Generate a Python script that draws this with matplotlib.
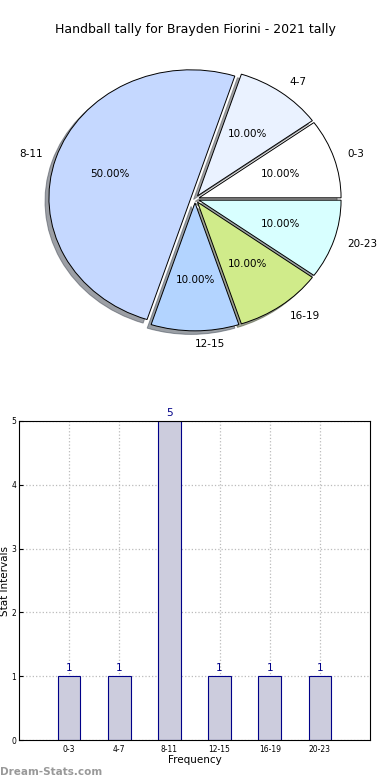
import matplotlib
matplotlib.use("Agg")
import matplotlib.pyplot as plt

categories = ["0-3", "4-7", "8-11", "12-15", "16-19", "20-23"]
values = [1, 1, 5, 1, 1, 1]
pie_colors = ["#ffffff", "#eaf2ff", "#c5d8ff", "#b3d4ff", "#d0eb8a", "#d8ffff"]
title = "Handball tally for Brayden Fiorini - 2021 tally"

fig = plt.figure(figsize=(3.9, 7.8), dpi=100)

# Pie (elliptical, as in the reference)
L = 1.3
rx, ry = 142, 128
Wp, Hp = 2 * L * rx, 2 * L * ry
cx, cy = 195, 780 - 199
axp = fig.add_axes([(cx - Wp / 2) / 390, (cy - Hp / 2) / 780, Wp / 390, Hp / 780])
axp.pie(values, labels=categories, colors=pie_colors, autopct="%.2f%%",
        explode=[0.03] * len(values), shadow=True, startangle=0,
        counterclock=True, wedgeprops=dict(edgecolor="black", linewidth=0.7),
        textprops=dict(fontsize=7.5), labeldistance=1.1, pctdistance=0.6)
axp.set_aspect("auto")
axp.set_xlim(-L, L)
axp.set_ylim(-L, L)
axp.axis("off")
fig.text(0.5, 1 - 30 / 780, title, ha="center", va="center", fontsize=9)

# Bars
axb = fig.add_axes([19 / 390, 40 / 780, 351 / 390, 319 / 780])
x = list(range(len(categories)))
axb.bar(x, values, width=0.45, color="#ccccdd", edgecolor="#000088", linewidth=0.8, zorder=2)
for xi, v in zip(x, values):
    axb.text(xi, v + 0.05, str(v), ha="center", va="bottom", color="#000088", fontsize=7.5)
axb.set_xlim(-1, 6)
axb.set_ylim(0, 5)
axb.set_xticks(x)
axb.set_xticklabels(categories, fontsize=5.5)
axb.set_yticks([0, 1, 2, 3, 4, 5])
axb.tick_params(axis="y", labelsize=5.5, length=3, direction="in", pad=2)
axb.tick_params(axis="x", length=3, direction="in")
axb.grid(True, linestyle=":", color="#bbbbbb", linewidth=0.9, zorder=0)
axb.set_axisbelow(True)
axb.set_xlabel("Frequency", fontsize=7.5, labelpad=1)
axb.set_ylabel("Stat Intervals", fontsize=7.5, labelpad=1)
for s in axb.spines.values():
    s.set_linewidth(0.8)

fig.text(0.0, 8 / 780, "Dream-Stats.com", fontsize=7.5, color="#999999",
         fontweight="bold", ha="left", va="center")

fig.savefig("out.png", dpi=100)
